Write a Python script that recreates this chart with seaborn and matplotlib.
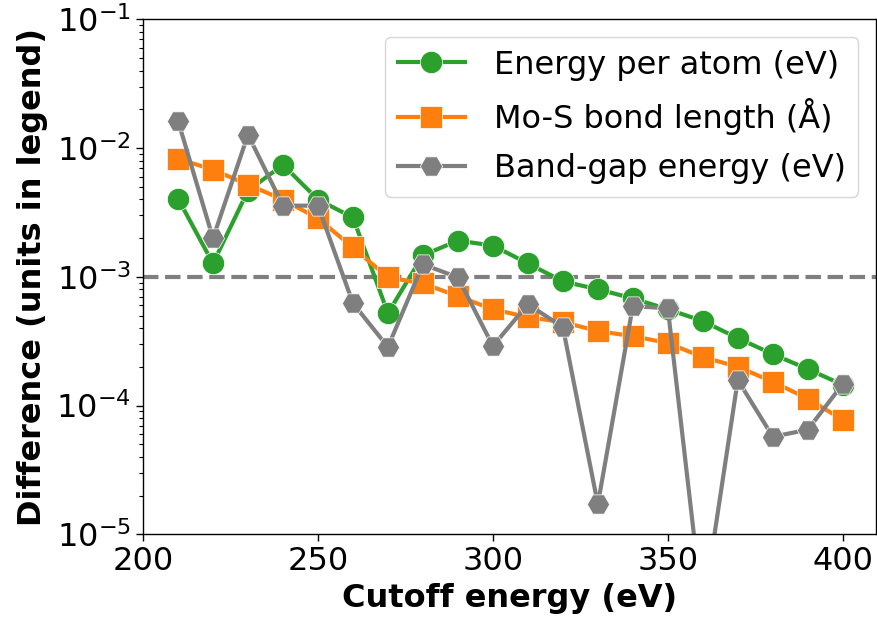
import numpy as np
import pandas as pd
import matplotlib
matplotlib.use("Agg")
import matplotlib.pyplot as plt
import seaborn as sns

cutoff = [210, 220, 230, 240, 250, 260, 270, 280, 290, 300,
          310, 320, 330, 340, 350, 360, 370, 380, 390, 400]

energy_per_atom = [4.05e-3, 1.27e-3, 4.67e-3, 7.41e-3, 3.98e-3, 2.89e-3, 5.22e-4,
                   1.47e-3, 1.91e-3, 1.75e-3, 1.27e-3, 9.22e-4, 8.0e-4, 6.8e-4,
                   5.6e-4, 4.53e-4, 3.34e-4, 2.51e-4, 1.92e-4, 1.45e-4]

bond_length = [8.26e-3, 6.79e-3, 5.2e-3, 3.98e-3, 2.84e-3, 1.69e-3, 9.9e-4,
               8.9e-4, 7.06e-4, 5.6e-4, 4.86e-4, 4.45e-4, 3.79e-4, 3.46e-4,
               3.06e-4, 2.38e-4, 2.0e-4, 1.53e-4, 1.13e-4, 7.76e-5]

band_gap = [1.63e-2, 1.99e-3, 1.27e-2, 3.57e-3, 3.57e-3, 6.24e-4, 2.85e-4,
            1.25e-3, 9.9e-4, 2.9e-4, 6.12e-4, 4.07e-4, 1.71e-5, 5.92e-4,
            5.7e-4, 2.5e-6, 1.58e-4, 5.73e-5, 6.49e-5, 1.47e-4]

labels = ["Energy per atom (eV)", "Mo-S bond length (Å)", "Band-gap energy (eV)"]
series = [energy_per_atom, bond_length, band_gap]
colors = ["#2ca02c", "#ff7f0e", "#7f7f7f"]
markers = ["o", "s", "H"]
threshold = 1e-3

fig = plt.figure(figsize=(8.78, 6.27), dpi=100)
ax = fig.add_axes([0.1629, 0.1478, 0.8348, 0.8214])

for vals, lab, col, mk in zip(series, labels, colors, markers):
    df = pd.DataFrame({"cutoff": cutoff, "diff": vals})
    sns.lineplot(data=df, x="cutoff", y="diff", ax=ax, color=col, marker=mk,
                 markersize=16, linewidth=3, label=lab,
                 markeredgecolor="white", markeredgewidth=0.5)

ax.axhline(threshold, color="#7f7f7f", linestyle="--", linewidth=3, zorder=0.5)

ax.set_yscale("log")
ax.set_ylim(1e-5, 1e-1)
ax.set_xlim(200, 409.5)
ax.set_xticks([200, 250, 300, 350, 400])
ax.tick_params(axis="both", which="major", labelsize=23, width=1, length=5)
ax.tick_params(axis="y", which="minor", width=0.8, length=3)
for s in ax.spines.values():
    s.set_linewidth(1)

ax.set_xlabel("Cutoff energy (eV)", fontsize=23, fontweight="bold", labelpad=4)
ax.set_ylabel("Difference (units in legend)", fontsize=23, fontweight="bold",
              labelpad=6)

ax.legend(loc="upper right", fontsize=23, handlelength=2.1, borderpad=0.4,
          labelspacing=0.55, handletextpad=0.9, borderaxespad=0.55)

fig.savefig("out.png", dpi=100)
